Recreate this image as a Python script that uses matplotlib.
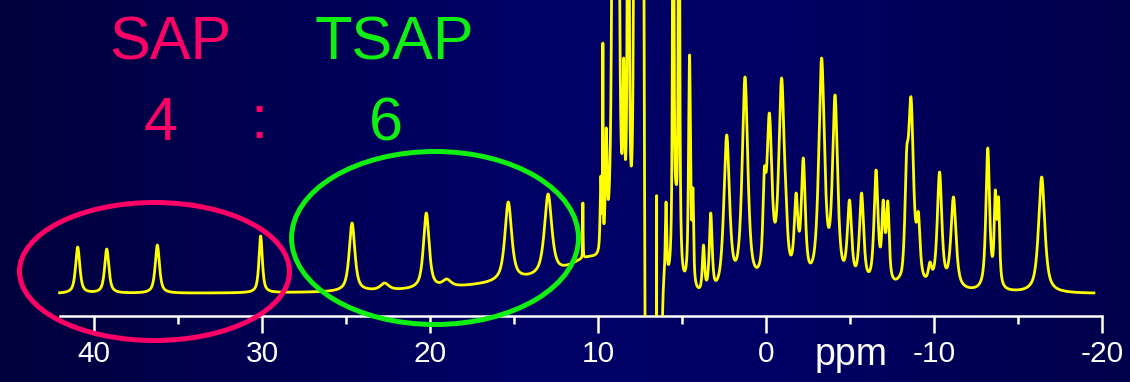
import numpy as np
import matplotlib.pyplot as plt
from matplotlib.patches import Ellipse, Rectangle
from matplotlib.colors import LinearSegmentedColormap

plt.rcParams['font.family'] = ['Liberation Sans', 'DejaVu Sans']

# resolved lines: shift (ppm), intensity at the top of the line, half width (ppm)
peak_ppm = [40.97, 39.24, 36.23, 30.08, 24.64, 22.70, 20.22, 19.00, 15.34, 12.97, 10.90,
            9.83, 9.71, 9.51, 8.47, 6.51, 5.95, 5.36, 4.55, 4.35, 3.72, 3.29, 2.34, 1.25,
            0.10, -0.20, -0.93, -1.19, -1.79, -2.22, -3.31, -3.51, -4.11, -4.97, -5.69,
            -6.55, -6.98, -7.25, -8.10, -8.37, -8.63, -9.07, -9.76, -10.33, -11.16,
            -13.20, -13.65, -13.84, -16.41]
peak_top = [49, 47, 51, 60, 73, 13, 83, 17, 94, 102, 93,
            120, 253, 168, 238, 103, 94, 113, 241, 108, 51, 83, 161, 219,
            128, 183, 218, 106, 103, 138, 238, 134, 201, 96, 103,
            126, 96, 95, 29, 146, 199, 84, 34, 124, 99,
            148, 106, 99, 119]
peak_hw = [0.15, 0.15, 0.15, 0.12, 0.20, 0.30, 0.20, 0.30, 0.24, 0.26, 0.015,
           0.05, 0.015, 0.06, 0.06, 0.01, 0.05, 0.10, 0.07, 0.05, 0.08, 0.10, 0.20, 0.20,
           0.10, 0.18, 0.20, 0.10, 0.13, 0.14, 0.20, 0.10, 0.18, 0.15, 0.15,
           0.14, 0.10, 0.10, 0.12, 0.12, 0.18, 0.12, 0.12, 0.16, 0.18,
           0.13, 0.08, 0.08, 0.22]

# lines running off the top of the plot
big_ppm = [9.08, 8.82, 8.20, 7.82, 7.60, 7.35, 5.52, 5.18]
big_amp = [1500, 1500, 1500, 2000, 2000, 3000, 1000, 1000]
big_hw = [0.05, 0.05, 0.03, 0.025, 0.05, 0.03, 0.03, 0.03]

# slow baseline roll
base_ppm = [10.6, 14.0, 3.5]
base_amp = [25, 10, -12]
base_hw = [1.6, 5.0, 1.5]
base_offset = 2

# saturated solvent line, dips below the axis
water_ppm = 6.72
water_amp = -1.0e4
water_sigma = 0.17

ticks_major = [40, 30, 20, 10, 0, -10, -20]
tick_labels = ['40', '30', '20', '10', '0', '-10', '-20']
ticks_minor = [35, 25, 15, 5, -5, -15]

ppm_start, ppm_end = 42.05, -19.52
eta = 0.75

pink = '#ff0066'
green = '#10f010'


def lorentz(x, c, w):
    return w ** 2 / ((x - c) ** 2 + w ** 2)


def pvoigt(x, c, w):
    g = np.exp(-np.log(2) * ((x - c) / w) ** 2)
    return eta * lorentz(x, c, w) + (1 - eta) * g


def background(x):
    y = np.full_like(x, base_offset, dtype=float)
    for c, a, w in zip(base_ppm, base_amp, base_hw):
        y += a * lorentz(x, c, w)
    for c, a, w in zip(big_ppm, big_amp, big_hw):
        y += a * lorentz(x, c, w)
    y += water_amp * np.exp(-0.5 * ((x - water_ppm) / water_sigma) ** 2)
    return y


# line amplitudes so that each top lands on its read intensity
centers = np.array(peak_ppm)
widths = np.array(peak_hw)
M = np.array([[pvoigt(ci, cj, wj) for cj, wj in zip(centers, widths)] for ci in centers])
amps = np.linalg.solve(M, np.array(peak_top, dtype=float) - background(centers))

ppm = np.linspace(ppm_start, ppm_end, 60000)
spec = background(ppm)
for c, a, w in zip(centers, amps, widths):
    spec += a * pvoigt(ppm, c, w)

fig = plt.figure(figsize=(11.3, 3.82), dpi=100)

# navy backdrop
bg = fig.add_axes([0, 0, 1, 1])
navy = LinearSegmentedColormap.from_list(
    'navy', [(0, '#00003c'), (0.45, '#000066'), (0.7, '#000064'), (1, '#00004a')])
bg.imshow(np.linspace(0, 1, 512)[None, :], aspect='auto', cmap=navy, extent=[0, 1, 0, 1])
bg.axis('off')

ax = fig.add_axes([0, 0, 1, 1])
ax.patch.set_alpha(0)
ax.set_xlim(45.595, -21.667)
ax.set_ylim(-86, 296)

line, = ax.plot(ppm, spec, color='#ffff00', lw=2.0, zorder=3)
clip = Rectangle((ppm_start + 5, -20), ppm_end - ppm_start - 10, 1e6, transform=ax.transData)
line.set_clip_path(clip)

for s in ['top', 'left', 'right']:
    ax.spines[s].set_visible(False)
ax.spines['bottom'].set_position(('data', -20))
ax.spines['bottom'].set_bounds(42, -20)
ax.spines['bottom'].set_color('white')
ax.spines['bottom'].set_linewidth(1.8)
ax.set_xticks(ticks_major)
ax.set_xticklabels(tick_labels)
ax.set_xticks(ticks_minor, minor=True)
ax.tick_params(axis='x', which='major', direction='out', length=12, width=1.8,
               colors='white', labelsize=21.5, pad=5)
ax.tick_params(axis='x', which='minor', direction='out', length=6, width=1.8, colors='white')
ax.set_yticks([])
ax.text(851 / 1130, 17 / 382, 'ppm', transform=ax.transAxes, ha='center', va='baseline',
        fontsize=27, color='white')

# circled groups
ax.add_patch(Ellipse((36.40, 24.5), 16.07, 138, fill=False, ec=pink, lw=3.6, zorder=5))
ax.add_patch(Ellipse((19.70, 58), 17.08, 173, fill=False, ec=green, lw=3.6, zorder=5))

title_kw = dict(ha='center', va='baseline', fontsize=44,
                family=['Liberation Sans Narrow', 'Liberation Sans', 'DejaVu Sans'])
fig.text(170 / 1130, 1 - 60 / 382, 'SAP', color=pink, **title_kw)
fig.text(394 / 1130, 1 - 60 / 382, 'TSAP', color=green, **title_kw)
fig.text(161 / 1130, 1 - 140 / 382, '4', color=pink, **title_kw)
fig.text(259 / 1130, 1 - 138 / 382, ':', color=pink, **title_kw)
fig.text(386 / 1130, 1 - 140 / 382, '6', color=green, **title_kw)

fig.savefig('out.png', dpi=100)
